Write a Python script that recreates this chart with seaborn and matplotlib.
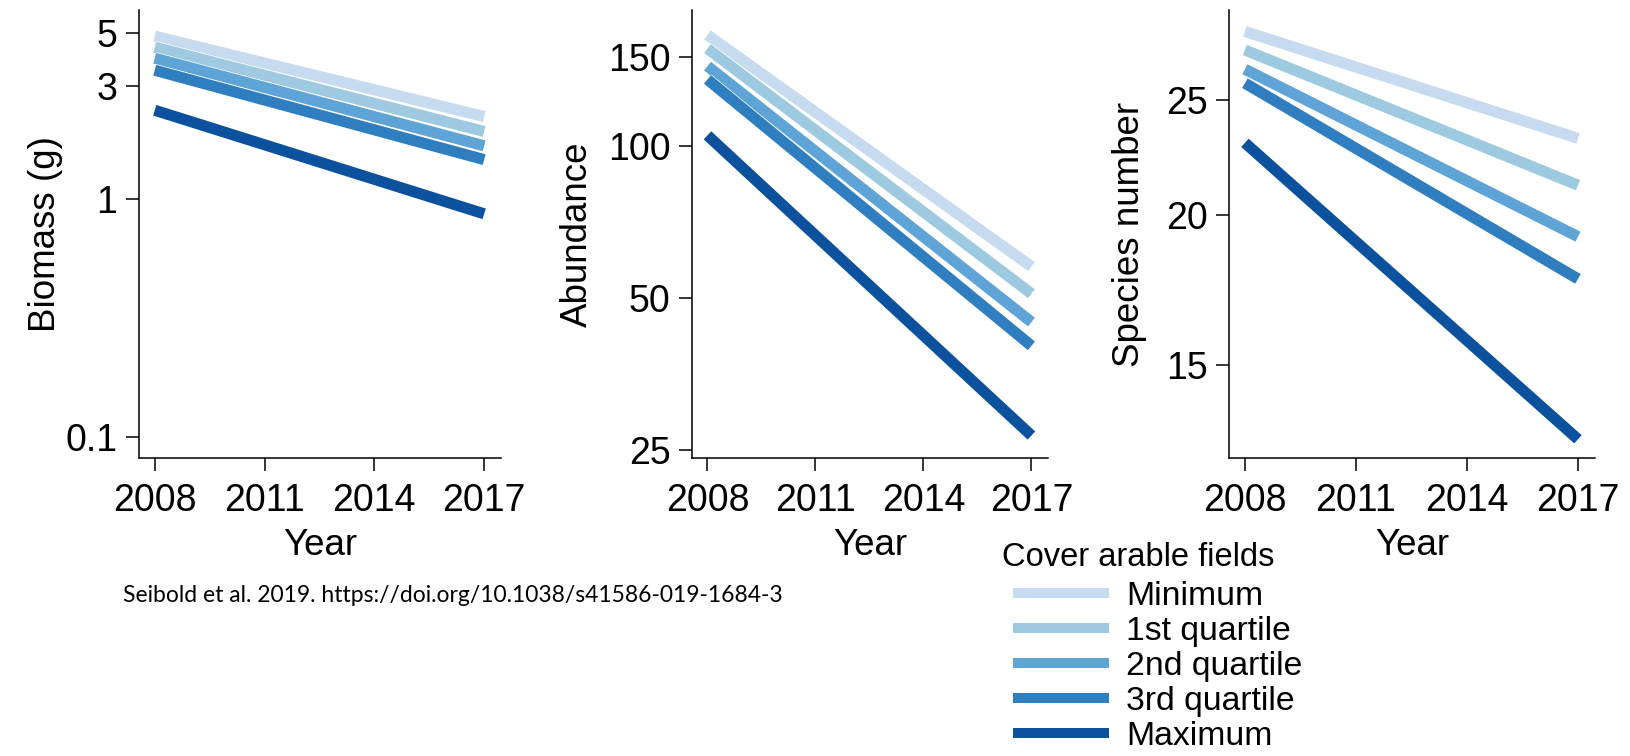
import matplotlib
matplotlib.use('Agg')
import matplotlib.pyplot as plt
import matplotlib.patheffects as pe
from matplotlib.lines import Line2D
import pandas as pd
import seaborn as sns

# values (fitted trends, log scale)
years = [2008, 2017]
levels = ["Minimum", "1st quartile", "2nd quartile", "3rd quartile", "Maximum"]
colors = ["#c6dbef", "#9dcae1", "#5fa4d6", "#2f7fc0", "#0b519d"]

biomass_2008 = [4.85, 4.36, 3.92, 3.49, 2.37]
biomass_2017 = [2.23, 1.93, 1.68, 1.47, 0.87]

abundance_2008 = [166, 156, 144, 135.5, 105]
abundance_2017 = [57.7, 51, 44.8, 40.2, 26.7]

species_2008 = [28.5, 27.5, 26.5, 25.8, 23.0]
species_2017 = [23.2, 21.2, 19.2, 17.7, 13.0]

year_ticks = [2008, 2011, 2014, 2017]
biomass_ticks = [0.1, 1, 3, 5]
abundance_ticks = [25, 50, 100, 150]
species_ticks = [15, 20, 25]

legend_title = "Cover arable fields"
citation = "Seibold et al. 2019. https://doi.org/10.1038/s41586-019-1684-3"


def to_long(start, end):
    rows = []
    for lvl, a, b in zip(levels, start, end):
        rows.append({"level": lvl, "year": years[0], "value": a})
        rows.append({"level": lvl, "year": years[1], "value": b})
    return pd.DataFrame(rows)


sns.set_theme(style="ticks")
plt.rcParams.update({
    "font.family": ["Liberation Sans", "DejaVu Sans"],
    "axes.linewidth": 1.1,
    "xtick.major.width": 1.1,
    "ytick.major.width": 1.1,
    "xtick.major.size": 9.5,
    "ytick.major.size": 9.5,
    "xtick.labelsize": 27,
    "ytick.labelsize": 27,
    "axes.labelsize": 26.5,
    "text.color": "black",
    "axes.labelcolor": "black",
    "xtick.color": "black",
    "ytick.color": "black",
    "axes.edgecolor": "black",
})

W, H = 1631, 756
fig = plt.figure(figsize=(W / 100, H / 100), dpi=100)

panels = [
    # left px, right px, start, end, ylabel, ylim, ticks, labels, ylabel x (axes frac)
    (139, 501, biomass_2008, biomass_2017, "Biomass (g)", (0.082, 6.25), biomass_ticks,
     ["0.1", "1", "3", "5"], -0.21),
    (692, 1048, abundance_2008, abundance_2017, "Abundance", (24.1, 186), abundance_ticks,
     ["25", "50", "100", "150"], -0.272),
    (1229, 1595, species_2008, species_2017, "Species number", (12.54, 29.7), species_ticks,
     ["15", "20", "25"], -0.225),
]

top_px, bottom_px = 10, 458
for left, right, start, end, ylab, ylim, ticks, ticklabels, ylab_x in panels:
    ax = fig.add_axes([left / W, (H - bottom_px) / H, (right - left) / W, (bottom_px - top_px) / H])
    df = to_long(start, end)
    sns.lineplot(data=df, x="year", y="value", hue="level", hue_order=levels,
                 palette=colors, linewidth=8, legend=False, ax=ax,
                 solid_capstyle="butt",
                 path_effects=[pe.Stroke(linewidth=9, foreground="white"), pe.Normal()])
    ax.set_yscale("log")
    ax.set_ylim(*ylim)
    ax.set_xlim(2007.57, 2017.46)
    ax.set_yticks(ticks)
    ax.set_yticklabels(ticklabels)
    ax.minorticks_off()
    ax.set_xticks(year_ticks)
    ax.set_xticklabels([str(y) for y in year_ticks])
    ax.tick_params(axis="x", pad=8.5)
    ax.tick_params(axis="y", pad=6)
    ax.set_xlabel("Year")
    ax.set_ylabel(ylab)
    ax.xaxis.set_label_coords(0.5, -0.157)
    ax.yaxis.set_label_coords(ylab_x, 0.5)
    ax.spines["top"].set_visible(False)
    ax.spines["right"].set_visible(False)
    ax.set_facecolor("white")

# legend title drawn as its own text, entries as a figure legend
fig.text(1002 / W, 1 - 558 / H, legend_title, ha="left", va="center", fontsize=23.5)

handles = [Line2D([0], [0], color=c, lw=7.2, solid_capstyle="butt") for c in colors]
fig.legend(handles, levels, loc="upper left",
           bbox_to_anchor=(1013 / W, (H - 581) / H), frameon=False,
           fontsize=24.3, handlelength=2.85,
           handletextpad=0.5, labelspacing=0.12, borderpad=0, borderaxespad=0)

fig.text(123 / W, 1 - 596 / H, citation, ha="left", va="center",
         family=["Lato", "DejaVu Sans"], fontsize=16.5)

fig.savefig("out.png", dpi=100, facecolor="white")
